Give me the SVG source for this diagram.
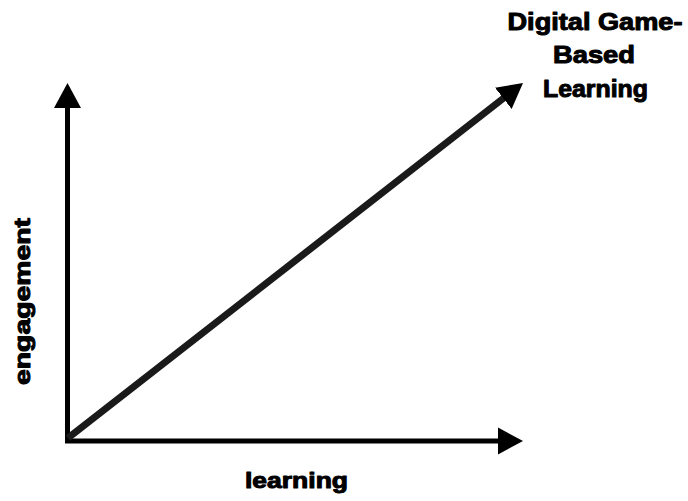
<svg xmlns="http://www.w3.org/2000/svg" width="688" height="501" viewBox="0 0 688 501">
<style>
.ax{stroke:#000;stroke-width:5;fill:none}
.diag{stroke:#1a1a1a;stroke-width:7;fill:none}
.t{font-family:"Liberation Sans",Arial,sans-serif;font-weight:bold;fill:#000;stroke:#000;stroke-width:1;stroke-linejoin:round}
.title{font-size:24px}
.lab{font-size:22px}
</style>
<defs>
<marker id="ah" markerUnits="userSpaceOnUse" markerWidth="26" markerHeight="28" viewBox="0 -14 26 28" refX="10" refY="0" orient="auto">
<path d="M0,-13.5 L25,0 L0,13.5 Z" fill="#000"/>
</marker>
</defs>
<rect width="688" height="501" fill="#fff"/>
<g id="connectors">
<line id="y-axis" class="ax" x1="67.5" y1="443" x2="67.5" y2="98" marker-end="url(#ah)"/>
<line id="x-axis" class="ax" x1="65" y1="441" x2="508" y2="441" marker-end="url(#ah)"/>
<line id="diagonal" class="diag" x1="68" y1="438" x2="511.2" y2="92.2" marker-end="url(#ah)"/>
</g>
<g id="dgbl-label">
<text class="t title" x="595" y="30" text-anchor="middle" textLength="175" lengthAdjust="spacingAndGlyphs">Digital Game-</text>
<text class="t title" x="594" y="63" text-anchor="middle" textLength="82" lengthAdjust="spacingAndGlyphs">Based</text>
<text class="t title" x="595.5" y="97" text-anchor="middle" textLength="105" lengthAdjust="spacingAndGlyphs">Learning</text>
</g>
<g id="x-label">
<text class="t lab" x="296.5" y="488" text-anchor="middle" textLength="103" lengthAdjust="spacingAndGlyphs">learning</text>
</g>
<g id="y-label">
<text class="t lab" x="0" y="0" transform="translate(30,301.5) rotate(-90)" text-anchor="middle" textLength="167" lengthAdjust="spacingAndGlyphs">engagement</text>
</g>
</svg>
